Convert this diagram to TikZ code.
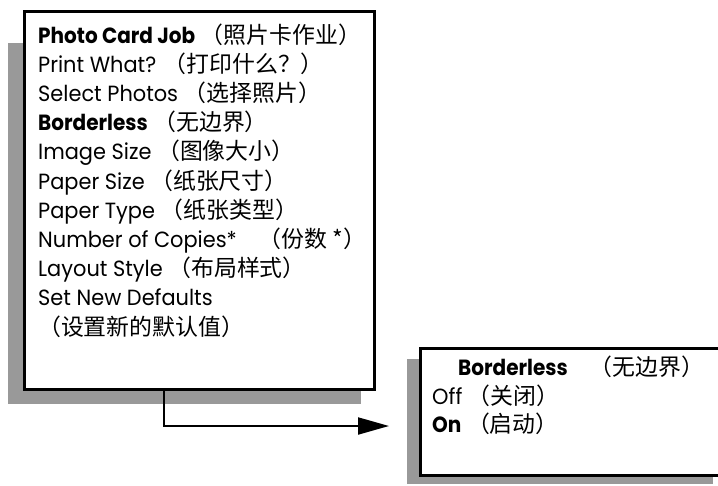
\documentclass[tikz,border=0pt]{standalone}
\usepackage{fontspec}
\setmainfont{Poppins}[FakeStretch=0.95,BoldFeatures={FakeStretch=0.91}]
\newfontfamily\cjk{Noto Sans CJK SC}[Scale=1.04]
\usetikzlibrary{positioning,backgrounds,calc,arrows.meta}
\newcommand{\zh}[1]{{\cjk #1}}
\tikzset{
  menu/.style={rectangle,draw,line width=2.5pt,fill=white,anchor=north west,inner sep=0pt},
  shade/.style={fill=black!40},
  item/.style={anchor=base west,inner sep=0pt,font=\fontsize{22}{26}\selectfont},
  pointer/.style={line width=2pt,-{Triangle[length=31pt,width=17pt]}}
}

\begin{document}
\begin{tikzpicture}[x=1pt,y=-1pt]
    \useasboundingbox (0,0) rectangle (718,485);
    \clip (0,0) rectangle (718,485);
    \node[menu,minimum width=350pt,minimum height=378pt] (m) at (23,10) {};
    \node[menu,minimum width=320pt,minimum height=127pt] (b) at (419,347) {};
    \foreach \t [count=\i] in {{\textbf{Photo Card Job} \zh{（照片卡作业）}},
      {Print What? \zh{（打印什么？）}},
      {Select Photos \zh{（选择照片）}},
      {\textbf{Borderless} \zh{（无边界）}},
      {Image Size \zh{（图像大小）}},
      {Paper Size \zh{（纸张尺寸）}},
      {Paper Type \zh{（纸张类型）}},
      {Number of Copies*\quad\zh{（份数 *）}},
      {Layout Style \zh{（布局样式）}},
      {Set New Defaults},
      {\zh{（设置新的默认值）}}}{
      \node[item] (m_\i) at (38,{43+29.2*(\i-1)}) {\t};
    }
    \node[item] (b_1) at (458,375) {\textbf{Borderless}\quad\zh{（无边界）}};
    \node[item] (b_2) at (432,404) {Off \zh{（关闭）}};
    \node[item] (b_3) at (432,432) {\textbf{On} \zh{（启动）}};
    \coordinate (a) at ($(m.south west)!0.4!(m.south east)$);
    \coordinate (t) at (389,426);
    \draw[pointer] (a) |- (t);
    \begin{pgfonlayer}{background}
      \fill[shade] ($(m.north west)+(-15,33)$) rectangle ($(m.south east)+(-15,13)$);
      \fill[shade] ($(b.north west)+(-12,12)$) rectangle (713,484);
    \end{pgfonlayer}
  \end{tikzpicture}
\end{document}
